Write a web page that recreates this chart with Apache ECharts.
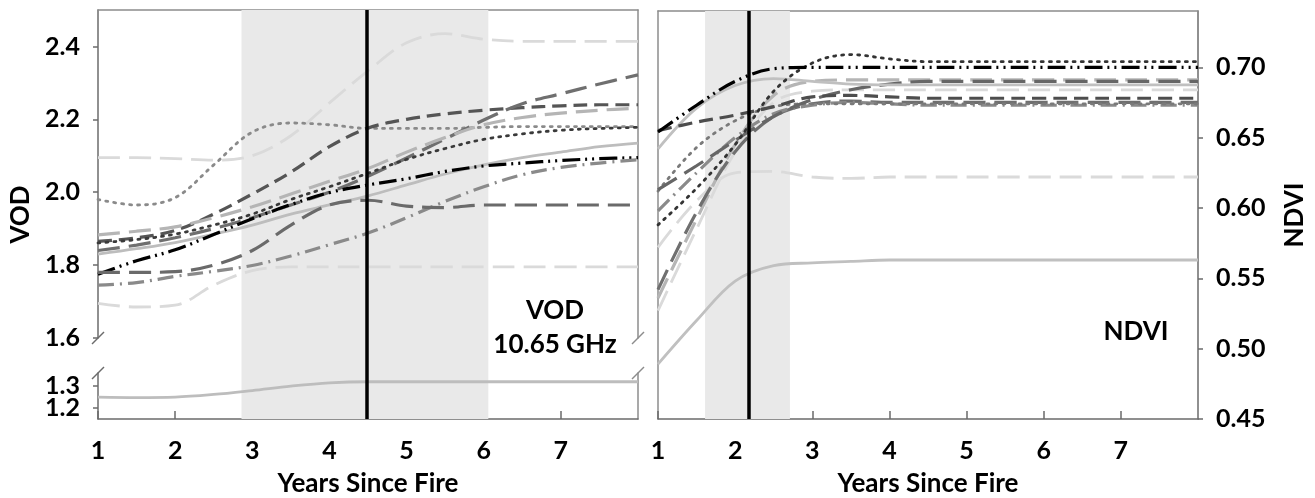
<!DOCTYPE html>
<html>
<head>
<meta charset="utf-8">
<script src="https://cdn.jsdelivr.net/npm/echarts@6/dist/echarts.min.js"></script>
<style>html,body{margin:0;padding:0;background:#fff;}#c{width:1315px;height:498px;}</style>
</head>
<body>
<div id="c"></div>
<script>
// ---------- data ----------
const years = [1, 1.5, 2, 2.5, 3, 3.5, 4, 4.5, 5, 5.5, 6, 6.5, 7, 7.5, 8];
const xTicks = [1, 2, 3, 4, 5, 6, 7];
const vodTicksUpper = [1.6, 1.8, 2.0, 2.2, 2.4];
const vodTicksLowerA = [1.2];
const vodTicksLowerB = [1.3];
const ndviTicks = [0.45, 0.50, 0.55, 0.60, 0.65, 0.70];
const vodShade = [2.86, 6.06];
const vodMark = 4.48;
const ndviShade = [1.61, 2.71];
const ndviMark = 2.17;

// VOD 10.65 GHz (upper segment)
const vodA = [2.095, 2.095, 2.092, 2.088, 2.100, 2.155, 2.245, 2.333, 2.410, 2.435, 2.420, 2.414, 2.414, 2.414, 2.414];
const vodB = [1.980, 1.965, 1.985, 2.075, 2.165, 2.190, 2.185, 2.175, 2.175, 2.175, 2.178, 2.180, 2.180, 2.180, 2.180];
const vodC = [1.865, 1.875, 1.895, 1.940, 1.995, 2.055, 2.125, 2.176, 2.200, 2.215, 2.225, 2.232, 2.237, 2.240, 2.240];
const vodD = [1.840, 1.855, 1.875, 1.900, 1.930, 1.965, 2.000, 2.044, 2.094, 2.146, 2.198, 2.243, 2.270, 2.297, 2.322];
const vodE = [1.883, 1.893, 1.905, 1.930, 1.960, 1.995, 2.030, 2.065, 2.110, 2.150, 2.185, 2.205, 2.217, 2.225, 2.231];
const vodF = [1.861, 1.870, 1.885, 1.910, 1.940, 1.980, 2.015, 2.052, 2.090, 2.120, 2.145, 2.160, 2.170, 2.175, 2.178];
const vodG = [1.830, 1.845, 1.862, 1.885, 1.910, 1.940, 1.965, 1.990, 2.020, 2.050, 2.075, 2.095, 2.110, 2.125, 2.135];
const vodH = [1.775, 1.812, 1.842, 1.884, 1.927, 1.966, 1.999, 2.020, 2.037, 2.057, 2.072, 2.080, 2.087, 2.092, 2.095];
const vodI = [1.745, 1.752, 1.769, 1.783, 1.799, 1.825, 1.856, 1.888, 1.930, 1.975, 2.015, 2.048, 2.068, 2.080, 2.089];
const vodJ = [1.780, 1.780, 1.782, 1.800, 1.840, 1.910, 1.965, 1.978, 1.962, 1.958, 1.965, 1.965, 1.965, 1.965, 1.965];
const vodK = [1.695, 1.685, 1.690, 1.745, 1.785, 1.795, 1.795, 1.795, 1.795, 1.795, 1.795, 1.795, 1.795, 1.795, 1.795];
// VOD lower segment
const vodL = [1.250, 1.248, 1.250, 1.262, 1.280, 1.300, 1.315, 1.320, 1.320, 1.320, 1.320, 1.320, 1.320, 1.320, 1.320];

// NDVI
const ndA = [0.654, 0.673, 0.690, 0.699, 0.700, 0.700, 0.700, 0.700, 0.700, 0.700, 0.700, 0.700, 0.700, 0.700, 0.700];
const ndB = [0.588, 0.614, 0.645, 0.683, 0.703, 0.709, 0.706, 0.704, 0.704, 0.704, 0.704, 0.704, 0.704, 0.704, 0.704];
const ndC = [0.655, 0.661, 0.666, 0.672, 0.679, 0.680, 0.679, 0.678, 0.678, 0.678, 0.678, 0.678, 0.678, 0.678, 0.678];
const ndD = [0.642, 0.671, 0.687, 0.692, 0.690, 0.688, 0.6875, 0.6875, 0.6875, 0.6875, 0.6875, 0.6875, 0.6875, 0.6875, 0.6875];
const ndE = [0.613, 0.630, 0.648, 0.665, 0.677, 0.684, 0.688, 0.690, 0.690, 0.690, 0.690, 0.690, 0.690, 0.690, 0.690];
const ndF = [0.598, 0.625, 0.650, 0.667, 0.673, 0.675, 0.674, 0.673, 0.673, 0.673, 0.673, 0.673, 0.673, 0.673, 0.673];
const ndG = [0.542, 0.597, 0.640, 0.665, 0.674, 0.676, 0.675, 0.675, 0.675, 0.675, 0.675, 0.675, 0.675, 0.675, 0.675];
const ndH = [0.536, 0.592, 0.645, 0.680, 0.690, 0.691, 0.691, 0.691, 0.691, 0.691, 0.691, 0.691, 0.691, 0.691, 0.691];
const ndI = [0.527, 0.585, 0.640, 0.675, 0.683, 0.684, 0.684, 0.684, 0.684, 0.684, 0.684, 0.684, 0.684, 0.684, 0.684];
const ndJ = [0.572, 0.605, 0.625, 0.626, 0.622, 0.621, 0.622, 0.622, 0.622, 0.622, 0.622, 0.622, 0.622, 0.622, 0.622];
const ndK = [0.489, 0.520, 0.548, 0.559, 0.561, 0.562, 0.563, 0.563, 0.563, 0.563, 0.563, 0.563, 0.563, 0.563, 0.563];
const ndL = [0.612, 0.643, 0.662, 0.672, 0.674, 0.674, 0.674, 0.674, 0.674, 0.674, 0.674, 0.674, 0.674, 0.674, 0.674];

// ---------- styles ----------
const FONT = 'Lato';
const DOT = [2, 6], DASH = [14, 7], LDASH = [22, 9], DASHDOT = [16, 6, 2, 6], DASHDOT2 = [18, 5, 2, 5, 2, 5];
const vodStyles = [
  [vodA, '#dadada', LDASH, 2.8],
  [vodB, '#8a8a8a', DOT, 2.8],
  [vodC, '#555555', DASH, 3.2],
  [vodD, '#6f6f6f', LDASH, 3.2],
  [vodE, '#b5b5b5', LDASH, 3.2],
  [vodF, '#3a3a3a', DOT, 2.8],
  [vodG, '#bdbdbd', 'solid', 2.8],
  [vodH, '#000000', DASHDOT2, 3.2],
  [vodI, '#8a8a8a', DASHDOT, 3.2],
  [vodJ, '#6a6a6a', LDASH, 3.2],
  [vodK, '#dadada', LDASH, 2.8]
];
const ndStyles = [
  [ndK, '#c0c0c0', 'solid', 2.8],
  [ndJ, '#dadada', LDASH, 2.8],
  [ndI, '#dadada', LDASH, 2.8],
  [ndH, '#b5b5b5', LDASH, 3.2],
  [ndG, '#6f6f6f', LDASH, 3.2],
  [ndF, '#8a8a8a', DASHDOT, 3.2],
  [ndL, '#7a7a7a', DOT, 2.8],
  [ndE, '#666666', LDASH, 3.2],
  [ndD, '#c0c0c0', 'solid', 2.8],
  [ndC, '#4d4d4d', DASH, 3.2],
  [ndB, '#333333', DOT, 2.8],
  [ndA, '#000000', DASHDOT2, 3.2]
];

function pairs(arr) { return years.map((x, i) => [x, arr[i]]); }
function lineSeries(arr, color, type, width, xi, yi) {
  return {
    type: 'line', xAxisIndex: xi, yAxisIndex: yi, data: pairs(arr),
    symbol: 'none', showSymbol: false, smooth: 0.35, z: 3, silent: true,
    lineStyle: { color: color, type: type, width: width, cap: Array.isArray(type) && type[0] <= 2 ? 'round' : 'butt' }
  };
}

const axisColor = '#6b6b6b';
const labelStyle = { fontFamily: FONT, fontWeight: 'bold', fontSize: 25, color: '#000' };
const nameStyle = { fontFamily: FONT, fontWeight: 'bold', fontSize: 26, color: '#000' };

function borderX(gi, pos) {
  return { type: 'value', gridIndex: gi, position: pos, min: 1, max: 8, show: true,
    axisLine: { show: true, onZero: false, lineStyle: { color: '#8c8c8c', width: 1.5 } },
    axisTick: { show: false }, axisLabel: { show: false }, splitLine: { show: false } };
}
function hiddenX(gi) {
  return { type: 'value', gridIndex: gi, min: 1, max: 8, show: false };
}
function mainX(gi) {
  return { type: 'value', gridIndex: gi, position: 'bottom', min: 1, max: 8, interval: 1,
    axisLine: { show: true, onZero: false, lineStyle: { color: axisColor, width: 1.5 } },
    axisTick: { show: true, inside: true, length: 8, lineStyle: { color: axisColor, width: 1.5 }, customValues: xTicks },
    axisLabel: Object.assign({ margin: 19, showMinLabel: true, showMaxLabel: true, customValues: xTicks, formatter: v => String(v) }, labelStyle),
    splitLine: { show: false },
    name: 'Years Since Fire', nameLocation: 'middle', nameGap: 52, nameTextStyle: nameStyle };
}
function borderY(gi, pos, mn, mx) {
  return { type: 'value', gridIndex: gi, position: pos, min: mn, max: mx,
    axisLine: { show: true, onZero: false, lineStyle: { color: '#8c8c8c', width: 1.5 } },
    axisTick: { show: false }, axisLabel: { show: false }, splitLine: { show: false } };
}
function lowerY(ticks, showLine) {
  return { type: 'value', gridIndex: 2, position: 'left', offset: 0, min: 1.15, max: 1.36,
    axisLine: { show: showLine, onZero: false, lineStyle: { color: axisColor, width: 1.5 } },
    axisTick: { show: true, length: 5, customValues: ticks, lineStyle: { color: axisColor, width: 1.5 } },
    axisLabel: Object.assign({ margin: 18, showMinLabel: true, showMaxLabel: true, customValues: ticks, formatter: v => v.toFixed(1) }, labelStyle),
    splitLine: { show: false } };
}

const option = {
  animation: false,
  backgroundColor: '#fff',
  grid: [
    { left: 98, right: 677, top: 10, bottom: 79, outerBoundsMode: 'none' },   // 0: left full (shade, x axis)
    { left: 98, right: 677, top: 10, height: 328, outerBoundsMode: 'none' },  // 1: VOD upper
    { left: 98, right: 677, top: 373, height: 46, outerBoundsMode: 'none' },  // 2: VOD lower
    { left: 658, right: 117, top: 11, bottom: 79, outerBoundsMode: 'none' }   // 3: NDVI
  ],
  xAxis: [
    mainX(0),
    borderX(1, 'top'),
    hiddenX(2),
    mainX(3),
    borderX(3, 'top')
  ],
  yAxis: [
    { type: 'value', gridIndex: 0, position: 'left', min: 0, max: 1,
      axisLine: { show: false }, axisTick: { show: false }, axisLabel: { show: false }, splitLine: { show: false },
      name: 'VOD', nameLocation: 'middle', nameRotate: 90, nameGap: 64, nameTextStyle: nameStyle },
    { type: 'value', gridIndex: 1, position: 'left', min: 1.6, max: 2.5, interval: 0.2,
      axisLine: { show: true, onZero: false, lineStyle: { color: axisColor, width: 1.5 } },
      axisTick: { show: true, length: 5, customValues: vodTicksUpper, lineStyle: { color: axisColor, width: 1.5 } },
      axisLabel: Object.assign({ margin: 18, showMinLabel: true, customValues: vodTicksUpper, formatter: v => v.toFixed(1) }, labelStyle),
      splitLine: { show: false } },
    borderY(1, 'right', 1.6, 2.5),
    lowerY(vodTicksLowerA, true),
    borderY(2, 'right', 1.15, 1.36),
    { type: 'value', gridIndex: 3, position: 'right', min: 0.45, max: 0.74, interval: 0.05,
      axisLine: { show: true, onZero: false, lineStyle: { color: axisColor, width: 1.5 } },
      axisTick: { show: true, length: 5, customValues: ndviTicks, lineStyle: { color: axisColor, width: 1.5 } },
      axisLabel: Object.assign({ margin: 18, showMinLabel: true, customValues: ndviTicks, formatter: v => v.toFixed(2) }, labelStyle),
      splitLine: { show: false },
      name: 'NDVI', nameLocation: 'middle', nameRotate: 90, nameGap: 84, nameTextStyle: nameStyle },
    borderY(3, 'left', 0.45, 0.74),
    lowerY(vodTicksLowerB, false)
  ],
  series: [],
  graphic: [
    { type: 'text', x: 555, y: 311, z: 20, style: { text: 'VOD', font: 'bold 26px Lato', fill: '#000', align: 'center', verticalAlign: 'middle' } },
    { type: 'text', x: 555, y: 345, z: 20, style: { text: '10.65 GHz', font: 'bold 26px Lato', fill: '#000', align: 'center', verticalAlign: 'middle' } },
    { type: 'text', x: 1136, y: 332, z: 20, style: { text: 'NDVI', font: 'bold 26px Lato', fill: '#000', align: 'center', verticalAlign: 'middle' } },
    // axis break marks
    { type: 'line', z: 20, shape: { x1: 92, y1: 344, x2: 104, y2: 332 }, style: { stroke: axisColor, lineWidth: 1.5 } },
    { type: 'line', z: 20, shape: { x1: 92, y1: 379, x2: 104, y2: 367 }, style: { stroke: axisColor, lineWidth: 1.5 } },
    { type: 'line', z: 20, shape: { x1: 632, y1: 344, x2: 644, y2: 332 }, style: { stroke: '#8c8c8c', lineWidth: 1.5 } },
    { type: 'line', z: 20, shape: { x1: 632, y1: 379, x2: 644, y2: 367 }, style: { stroke: '#8c8c8c', lineWidth: 1.5 } }
  ]
};

// shaded periods and vertical markers
function shadeSeries(xi, yi, range) {
  return { type: 'line', xAxisIndex: xi, yAxisIndex: yi, data: [], z: 1, silent: true,
    markArea: { silent: true, itemStyle: { color: '#e9e9e9' }, data: [[{ xAxis: range[0] }, { xAxis: range[1] }]] } };
}
function markSeries(xi, yi, x) {
  return { type: 'line', xAxisIndex: xi, yAxisIndex: yi, data: [], z: 10, silent: true,
    markLine: { silent: true, symbol: 'none', label: { show: false }, animation: false,
      lineStyle: { color: '#000', width: 3.5, type: 'solid' }, data: [{ xAxis: x }] } };
}
option.series.push(shadeSeries(0, 0, vodShade));
option.series.push(shadeSeries(3, 5, ndviShade));
vodStyles.forEach(s => option.series.push(lineSeries(s[0], s[1], s[2], s[3], 1, 1)));
option.series.push(lineSeries(vodL, '#bdbdbd', 'solid', 2.8, 2, 3));
ndStyles.forEach(s => option.series.push(lineSeries(s[0], s[1], s[2], s[3], 3, 5)));
option.series.push(markSeries(0, 0, vodMark));
option.series.push(markSeries(3, 5, ndviMark));

const chart = echarts.init(document.getElementById('c'), null, { renderer: 'canvas' });
chart.setOption(option);
</script>
</body>
</html>
